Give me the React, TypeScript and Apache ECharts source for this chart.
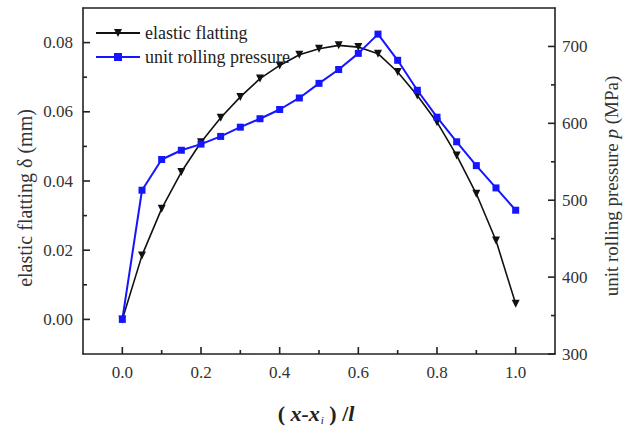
import React, { useEffect, useRef } from "react";
import * as echarts from "echarts";

const X_VALUES = [0, 0.05, 0.1, 0.15, 0.2, 0.25, 0.3, 0.35, 0.4, 0.45, 0.5, 0.55, 0.6, 0.65, 0.7, 0.75, 0.8, 0.85, 0.9, 0.95, 1.0];
const ELASTIC_FLATTING = [0, 0.0185, 0.032, 0.0426, 0.0512, 0.0583, 0.0643, 0.0696, 0.0734, 0.0765, 0.0782, 0.0792, 0.0787, 0.0768, 0.0715, 0.0647, 0.057, 0.0474, 0.0363, 0.0228, 0.0045];
const ROLLING_PRESSURE = [345, 513, 553, 565, 573, 583, 595, 606, 618, 633, 652, 670, 691, 716, 682, 643, 608, 576, 545, 516, 487];

const X_MAJOR = [0, 0.2, 0.4, 0.6, 0.8, 1.0];
const X_MINOR = [0.1, 0.3, 0.5, 0.7, 0.9];
const YL_MAJOR = [0, 0.02, 0.04, 0.06, 0.08];
const YL_MINOR = [0.01, 0.03, 0.05, 0.07];
const YR_MAJOR = [300, 400, 500, 600, 700];
const YR_MINOR = [350, 450, 550, 650];

const X_RANGE = [-0.1, 1.1];
const YL_RANGE = [-0.01, 0.09];
const YR_RANGE = [300, 750];

const SERIES_NAMES = ["elastic flatting", "unit rolling pressure"];

const FONT = "Liberation Serif";
const TICK_COLOR = "#222";

export default function App() {
  const ref = useRef<HTMLDivElement>(null);

  useEffect(() => {
    if (!ref.current) return;
    const chart = echarts.init(ref.current, null, { renderer: "svg" });

    const ls = { color: TICK_COLOR, width: 1.6 };
    const labelFont = { fontFamily: FONT, fontSize: 17, color: "#333" };

    const textGraphics: any[] = [
      {
        type: "text",
        x: 25,
        y: 198,
        rotation: Math.PI / 2,
        style: {
          text: "elastic flatting δ (mm)",
          fontFamily: FONT,
          fontSize: 20,
          fill: "#333",
          align: "center",
          verticalAlign: "middle",
        },
      },
      {
        type: "text",
        x: 611,
        y: 186,
        rotation: Math.PI / 2,
        style: {
          text: "{a|unit rolling pressure }{b|p}{a| (MPa)}",
          align: "center",
          verticalAlign: "middle",
          rich: {
            a: { fontFamily: FONT, fontSize: 19, fill: "#333", color: "#333" },
            b: { fontFamily: FONT, fontSize: 19, fontStyle: "italic", fill: "#333", color: "#333" },
          },
        },
      },
      {
        type: "text",
        x: 316,
        y: 413,
        style: {
          text: "{n|( }{i|x-x}{s|i}{n| ) /}{i|l}",
          align: "center",
          verticalAlign: "middle",
          rich: {
            n: { fontFamily: FONT, fontSize: 22, fontWeight: "bold", fill: "#222", color: "#222" },
            i: { fontFamily: FONT, fontSize: 22, fontWeight: "bold", fontStyle: "italic", fill: "#222", color: "#222" },
            s: { fontFamily: FONT, fontSize: 11, fontStyle: "italic", fill: "#222", color: "#222", padding: [14, 0, 0, 1] },
          },
        },
      },
    ];

    const option = {
      animation: false,
      grid: { left: 83, top: 8, right: 73, bottom: 75 },
      xAxis: [
        {
          type: "value", min: X_RANGE[0], max: X_RANGE[1], position: "bottom",
          axisLine: { onZero: false, lineStyle: ls },
          axisTick: { show: false },
          axisLabel: { customValues: X_MAJOR, formatter: (v: number) => v.toFixed(1), margin: 10, ...labelFont },
          splitLine: { show: false },
        },
        {
          type: "value", min: X_RANGE[0], max: X_RANGE[1], position: "top",
          axisLine: { onZero: false, lineStyle: ls },
          axisTick: { show: false },
          axisLabel: { show: false },
          splitLine: { show: false },
        },
      ],
      yAxis: [
        {
          type: "value", min: YL_RANGE[0], max: YL_RANGE[1], position: "left",
          axisLine: { show: true, onZero: false, lineStyle: ls },
          axisTick: { show: false },
          axisLabel: { customValues: YL_MAJOR, formatter: (v: number) => v.toFixed(2), margin: 10, ...labelFont },
          splitLine: { show: false },
        },
        {
          type: "value", min: YR_RANGE[0], max: YR_RANGE[1], position: "right",
          axisLine: { show: true, onZero: false, lineStyle: ls },
          axisTick: { show: false },
          axisLabel: { customValues: YR_MAJOR, margin: 7, ...labelFont },
          splitLine: { show: false },
        },
      ],
      legend: {
        orient: "vertical",
        left: 90,
        top: 19,
        itemWidth: 44,
        itemHeight: 10,
        itemGap: 6,
        data: SERIES_NAMES,
        textStyle: { fontFamily: FONT, fontSize: 18, color: "#222" },
      },
      series: [
        {
          name: SERIES_NAMES[0],
          type: "line",
          xAxisIndex: 0,
          yAxisIndex: 0,
          data: X_VALUES.map((x, i) => [x, ELASTIC_FLATTING[i]]),
          symbol: "triangle",
          symbolRotate: 180,
          symbolSize: 8,
          lineStyle: { color: "#111", width: 1.6 },
          itemStyle: { color: "#111" },
        },
        {
          name: SERIES_NAMES[1],
          type: "line",
          xAxisIndex: 0,
          yAxisIndex: 1,
          data: X_VALUES.map((x, i) => [x, ROLLING_PRESSURE[i]]),
          symbol: "rect",
          symbolSize: 7,
          lineStyle: { color: "#1515ff", width: 2 },
          itemStyle: { color: "#1515ff" },
        },
      ],
      graphic: textGraphics,
    };

    chart.setOption(option as any);

    // Tick marks placed through the chart's own axis scales
    const px = (v: number) => chart.convertToPixel({ xAxisIndex: 0 } as any, v) as number;
    const pyL = (v: number) => chart.convertToPixel({ yAxisIndex: 0 } as any, v) as number;
    const pyR = (v: number) => chart.convertToPixel({ yAxisIndex: 1 } as any, v) as number;
    const bottom = pyL(YL_RANGE[0]);
    const left = px(X_RANGE[0]);
    const right = px(X_RANGE[1]);

    const tick = (x1: number, y1: number, x2: number, y2: number) => ({
      type: "line",
      z: 100,
      silent: true,
      shape: { x1, y1, x2, y2 },
      style: { stroke: TICK_COLOR, lineWidth: 1.6 },
    });

    const ticks: any[] = [
      ...X_MAJOR.map((v) => tick(px(v), bottom, px(v), bottom - 7)),
      ...X_MINOR.map((v) => tick(px(v), bottom, px(v), bottom - 4)),
      ...YL_MAJOR.map((v) => tick(left, pyL(v), left + 7, pyL(v))),
      ...YL_MINOR.map((v) => tick(left, pyL(v), left + 4, pyL(v))),
      ...YR_MAJOR.map((v) => tick(right, pyR(v), right - 7, pyR(v))),
      ...YR_MINOR.map((v) => tick(right, pyR(v), right - 4, pyR(v))),
    ];

    chart.setOption({ graphic: [...textGraphics, ...ticks] } as any, { replaceMerge: ["graphic"] } as any);

    return () => chart.dispose();
  }, []);

  return (
    <div
      ref={ref}
      style={{ position: "fixed", left: 0, top: 0, width: 628, height: 429, background: "#fff" }}
    />
  );
}
